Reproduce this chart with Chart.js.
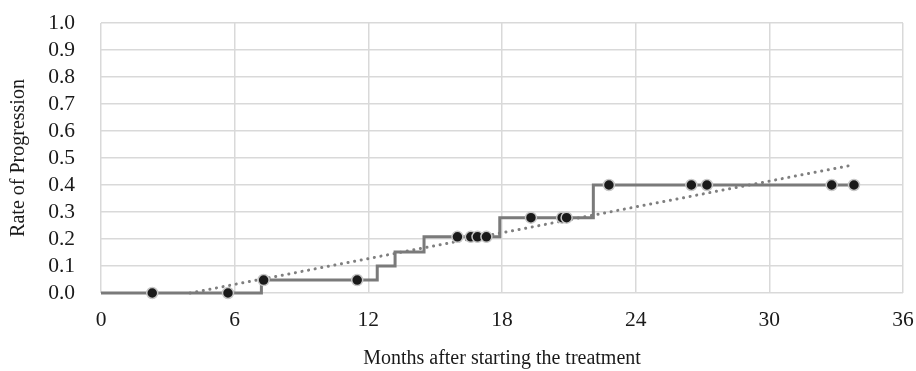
<!DOCTYPE html>
<html>
<head>
<meta charset="utf-8">
<script src="https://cdn.jsdelivr.net/npm/chart.js@4.4.0/dist/chart.umd.min.js"></script>
<style>
  html, body { margin: 0; padding: 0; background: #fff; }
  #wrap { width: 916px; height: 371px; }
</style>
</head>
<body>
<div id="wrap"><canvas id="chart"></canvas></div>
<script>
// step curve: month where the rate changes, and the new rate
const stepMonths = [0, 7.2, 12.4, 13.2, 14.5, 17.9, 22.1, 33.8];
const stepRates  = [0, 0.048, 0.10, 0.152, 0.208, 0.279, 0.40, 0.40];

// censored patients (markers)
const censorMonths = [2.3, 5.7, 7.3, 11.5, 16.0, 16.6, 16.9, 17.3, 19.3, 20.7, 20.9, 22.8, 26.5, 27.2, 32.8, 33.8];
const censorRates  = [0, 0, 0.048, 0.048, 0.208, 0.208, 0.208, 0.208, 0.279, 0.279, 0.279, 0.40, 0.40, 0.40, 0.40, 0.40];

// linear trend line end points
const trendMonths = [4.0, 33.8];
const trendRates  = [0, 0.475];

const xTicks = [0, 6, 12, 18, 24, 30, 36];

function toPoints(xs, ys) {
    return xs.map((x, i) => ({ x: x, y: ys[i] }));
}

const serif = 'Liberation Serif, Times New Roman, serif';

new Chart(document.getElementById('chart'), {
    type: 'scatter',
    data: {
        datasets: [
            {
                data: toPoints(censorMonths, censorRates),
                pointRadius: 5.5,
                pointBackgroundColor: '#1a1a1a',
                pointBorderColor: '#c8c8c8',
                pointBorderWidth: 1.5,
                showLine: false,
                clip: false,
                order: 0
            },
            {
                data: toPoints(stepMonths, stepRates),
                showLine: true,
                stepped: 'before',
                borderColor: '#7a7a7a',
                borderWidth: 3,
                pointRadius: 0,
                clip: false,
                order: 1
            },
            {
                data: toPoints(trendMonths, trendRates),
                showLine: true,
                borderColor: '#7f7f7f',
                borderWidth: 3,
                borderDash: [0.1, 6.6],
                borderCapStyle: 'round',
                pointRadius: 0,
                clip: false,
                order: 2
            }
        ]
    },
    options: {
        responsive: true,
        maintainAspectRatio: false,
        animation: false,
        layout: { padding: { top: 23, right: 13, left: 0, bottom: 0 } },
        plugins: {
            legend: { display: false },
            tooltip: { enabled: false }
        },
        scales: {
            x: {
                type: 'linear',
                min: 0,
                max: 36,
                afterBuildTicks: (axis) => { axis.ticks = xTicks.map(v => ({ value: v })); },
                afterFit: (axis) => {
                    axis.height = 78;
                    axis.paddingLeft = 0;
                    axis.paddingRight = 0;
                },
                grid: { color: '#d9d9d9', lineWidth: 1.5, drawTicks: false },
                border: { display: false },
                ticks: {
                    color: '#1a1a1a',
                    padding: 14,
                    maxRotation: 0,
                    autoSkip: false,
                    font: { family: serif, size: 21.5 }
                },
                title: {
                    display: true,
                    text: 'Months after starting the treatment',
                    color: '#1a1a1a',
                    padding: { top: 4, bottom: 0 },
                    font: { family: serif, size: 20 }
                }
            },
            y: {
                min: 0,
                max: 1,
                afterFit: (axis) => {
                    axis.width = 101;
                    axis.paddingTop = 0;
                    axis.paddingBottom = 0;
                },
                grid: { color: '#d9d9d9', lineWidth: 1.5, drawTicks: false },
                border: { display: false },
                ticks: {
                    stepSize: 0.1,
                    autoSkip: false,
                    color: '#1a1a1a',
                    padding: 26,
                    font: { family: serif, size: 21.5 },
                    callback: (v) => v.toFixed(1)
                },
                title: {
                    display: true,
                    text: 'Rate of Progression',
                    color: '#1a1a1a',
                    padding: { top: 7, bottom: 4 },
                    font: { family: serif, size: 20 }
                }
            }
        }
    }
});
</script>
</body>
</html>
